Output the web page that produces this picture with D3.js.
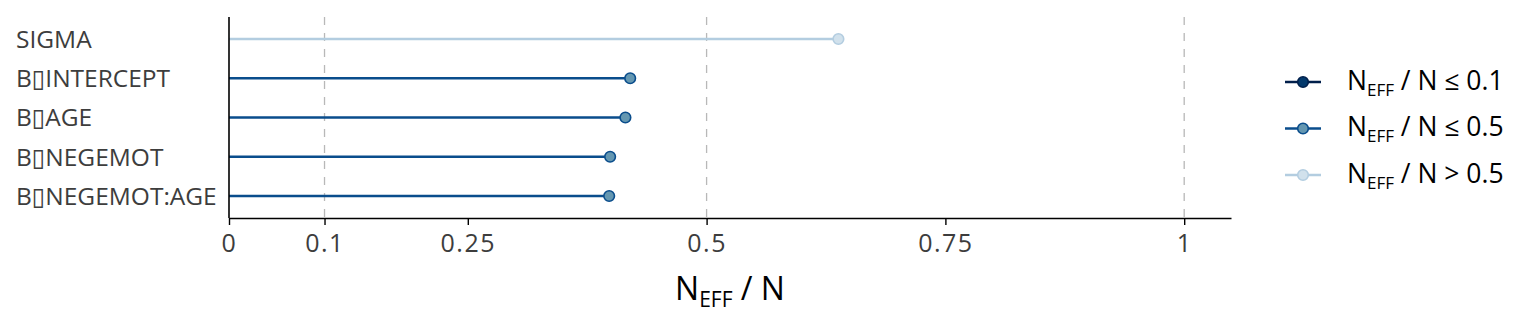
<!DOCTYPE html>
<html>
<head>
<meta charset="utf-8">
<script src="https://cdn.jsdelivr.net/npm/d3@7"></script>
<style>
  body { margin: 0; background: #fff; }
  svg text { font-family: "Open Sans", "DejaVu Sans", sans-serif; }
</style>
</head>
<body>
<div id="graph"></div>
<script>
const WIDTH = 1536, HEIGHT = 336;
const margin = {top: 17, right: 305, bottom: 118, left: 229};

// parameters, top to bottom
const params = ["SIGMA", "B\u25AFINTERCEPT", "B\u25AFAGE", "B\u25AFNEGEMOT", "B\u25AFNEGEMOT:AGE"];
const ratios = [0.638, 0.420, 0.415, 0.399, 0.398];
const xTicks = [0, 0.1, 0.25, 0.5, 0.75, 1];
const xTickLabels = ["0", "0.1", "0.25", "0.5", "0.75", "1"];
const refLines = [0.1, 0.5, 1];
const legendRel = ["\u2264", "\u2264", ">"];
const legendCut = ["0.1", "0.5", "0.5"];

const lineColors = ["#011f4b", "#0a4d8c", "#b3cde0"];
const fillColors = ["#03396c", "#6497b1", "#d1e1ec"];
const textColor = "#3d3d3d";

function rating(v) { return v <= 0.1 ? 0 : (v <= 0.5 ? 1 : 2); }

let plot_w = WIDTH - margin.left - margin.right;
let plot_h = HEIGHT - margin.top - margin.bottom;

let svg = d3.select("#graph")
    .append("svg")
    .attr("width", WIDTH)
    .attr("height", HEIGHT)
    .append("g")
    .attr("transform", `translate(${margin.left}, ${margin.top})`);

let x = d3.scaleLinear().domain([0, 1.049]).range([0, plot_w]);
let y = d3.scalePoint().domain(params).range([22, plot_h - 22]);

// dashed reference lines
svg.selectAll("line.ref").data(refLines).enter().append("line")
    .attr("class", "ref")
    .attr("x1", d => x(d)).attr("x2", d => x(d))
    .attr("y1", 0).attr("y2", plot_h)
    .attr("stroke", "#b8b8b8")
    .attr("stroke-width", 1.3)
    .attr("stroke-dasharray", "8,8");

// lollipop segments and points
let rows = params.map((p, i) => ({param: p, value: ratios[i], r: rating(ratios[i])}));

svg.selectAll("line.seg").data(rows).enter().append("line")
    .attr("class", "seg")
    .attr("x1", x(0)).attr("x2", d => x(d.value))
    .attr("y1", d => y(d.param)).attr("y2", d => y(d.param))
    .attr("stroke", d => lineColors[d.r])
    .attr("stroke-width", 2.4);

svg.selectAll("circle.pt").data(rows).enter().append("circle")
    .attr("class", "pt")
    .attr("cx", d => x(d.value)).attr("cy", d => y(d.param))
    .attr("r", 5.3)
    .attr("fill", d => fillColors[d.r])
    .attr("stroke", d => lineColors[d.r])
    .attr("stroke-width", 1.6);

// x axis
let xAxis = svg.append("g")
    .attr("transform", `translate(0, ${plot_h})`)
    .call(d3.axisBottom(x).tickValues(xTicks).tickSize(7).tickSizeOuter(0)
        .tickFormat((d, i) => xTickLabels[i]));
xAxis.select(".domain").attr("stroke", "#000").attr("stroke-width", 1.6);
xAxis.selectAll(".tick line").attr("stroke", "#000").attr("stroke-width", 1.4);
xAxis.selectAll(".tick text")
    .attr("fill", textColor)
    .attr("font-size", 25)
    .attr("letter-spacing", 1.5)
    .attr("dy", "0.95em");

// y axis line and left-aligned labels
svg.append("line")
    .attr("x1", 0).attr("x2", 0).attr("y1", 0).attr("y2", plot_h)
    .attr("stroke", "#000").attr("stroke-width", 1.6);

svg.selectAll("text.ylab").data(params).enter().append("text")
    .attr("class", "ylab")
    .attr("x", 16 - margin.left)
    .attr("y", d => y(d))
    .attr("dy", "0.36em")
    .attr("fill", textColor)
    .attr("font-size", 24.5)
    .text(d => d);

// axis title N_eff / N
let title = svg.append("text")
    .attr("x", plot_w / 2)
    .attr("y", plot_h + 82)
    .attr("text-anchor", "middle")
    .attr("fill", "#000")
    .attr("font-size", 32);
title.append("tspan").text("N");
title.append("tspan").attr("font-size", 21).attr("dy", 7).text("EFF");
title.append("tspan").attr("dy", -7).text(" / N");

// legend
let legend = svg.append("g")
    .attr("transform", `translate(${1285 - margin.left}, ${82 - margin.top})`);

let items = legend.selectAll("g.item").data(lineColors).enter().append("g")
    .attr("class", "item")
    .attr("transform", (d, i) => `translate(0, ${i * 46.5})`);

items.append("line")
    .attr("x1", 0).attr("x2", 36).attr("y1", 0).attr("y2", 0)
    .attr("stroke", d => d).attr("stroke-width", 2.4);
items.append("circle")
    .attr("cx", 18).attr("cy", 0).attr("r", 5.3)
    .attr("fill", (d, i) => fillColors[i])
    .attr("stroke", d => d).attr("stroke-width", 1.6);

let ltext = items.append("text")
    .attr("x", 62).attr("y", 0).attr("dy", "0.3em")
    .attr("fill", "#000")
    .attr("font-size", 26.5);
ltext.append("tspan").text("N");
ltext.append("tspan").attr("font-size", 17).attr("dy", 6).text("EFF");
ltext.append("tspan").attr("dy", -6).text((d, i) => ` / N ${legendRel[i]} ${legendCut[i]}`);
</script>
</body>
</html>
